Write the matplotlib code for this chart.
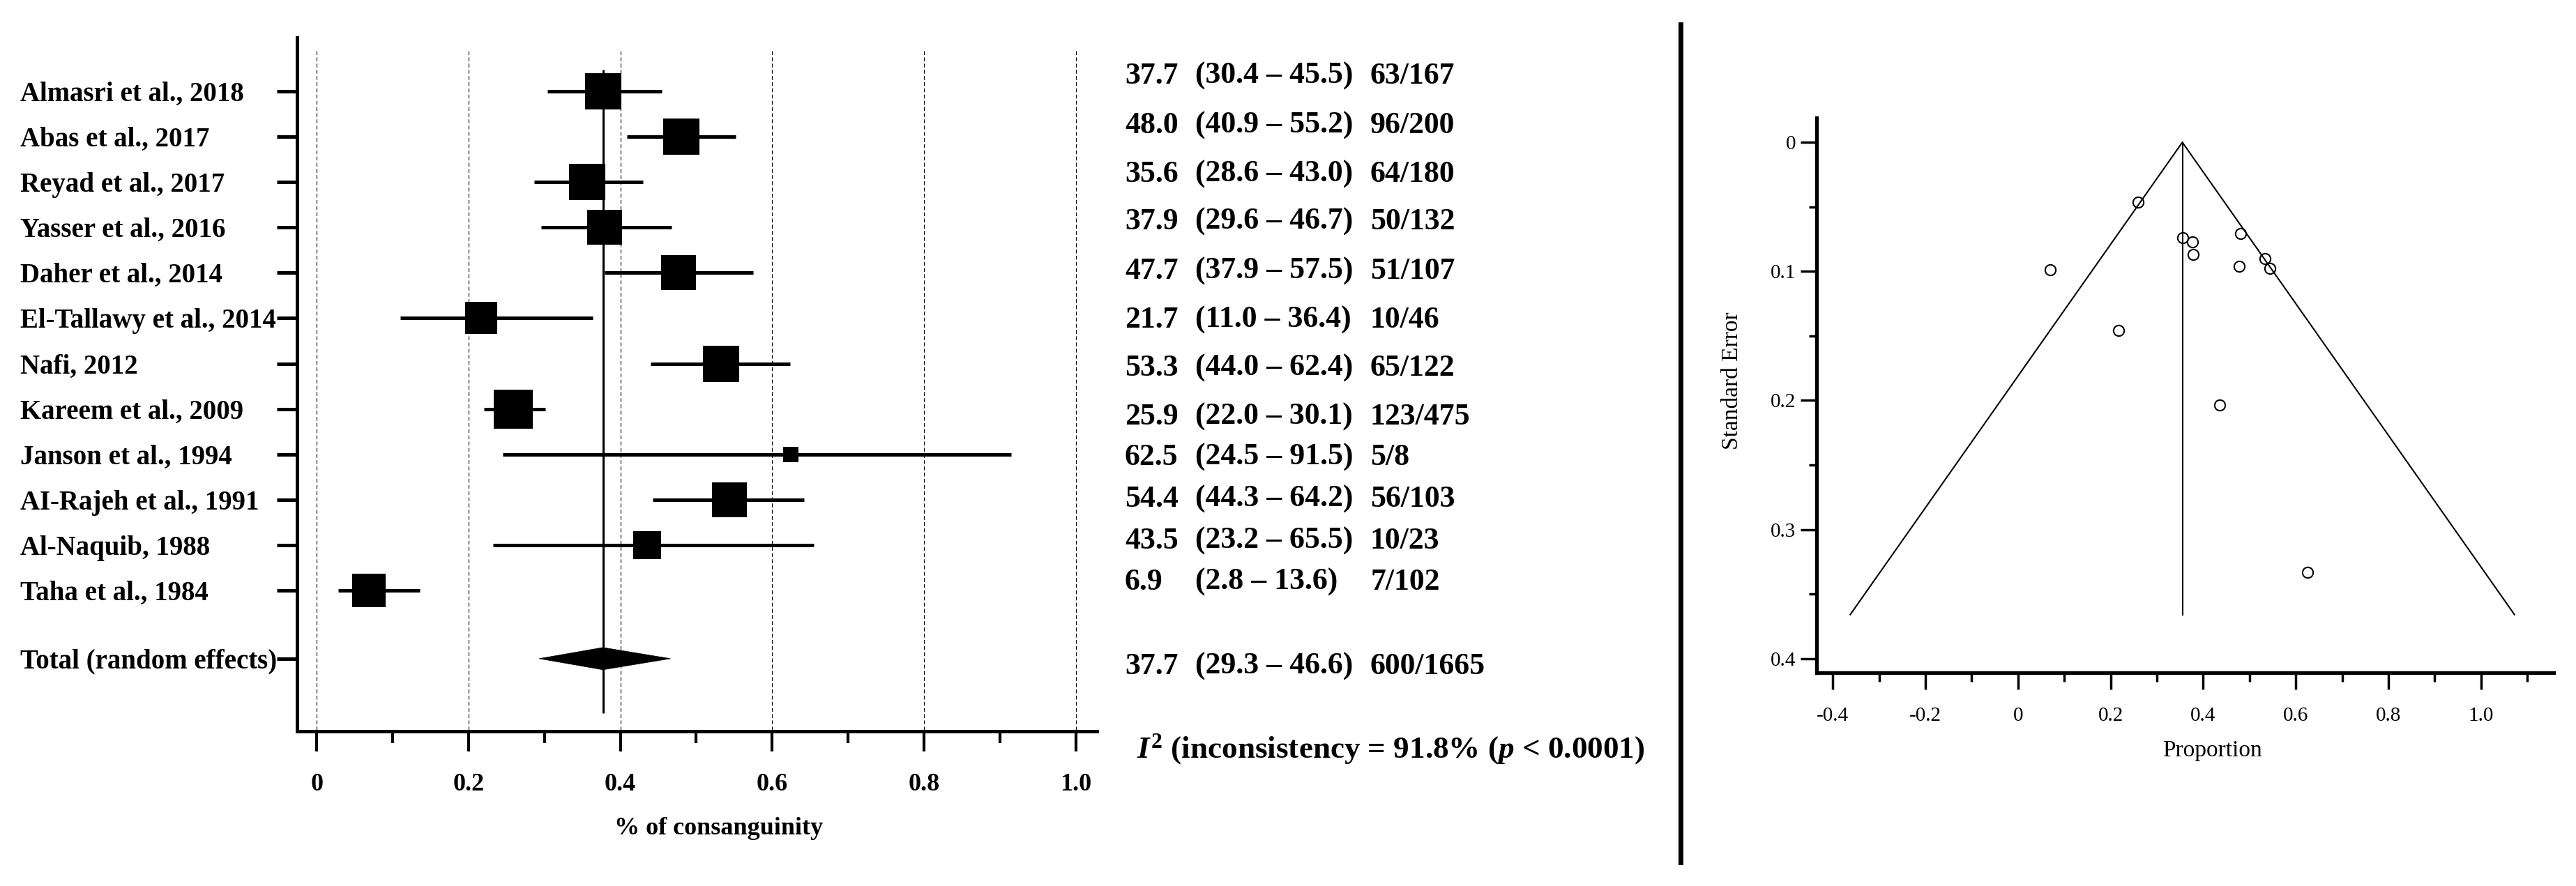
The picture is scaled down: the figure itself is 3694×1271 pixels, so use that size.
import numpy as np
import matplotlib
matplotlib.use("Agg")
import matplotlib.pyplot as plt
from matplotlib.patches import Polygon
from matplotlib.lines import Line2D

plt.rcParams['font.family'] = ['Liberation Serif', 'DejaVu Serif']
plt.rcParams['mathtext.fontset'] = 'custom'
plt.rcParams['mathtext.rm'] = 'Liberation Serif:bold'
plt.rcParams['mathtext.it'] = 'Liberation Serif:italic:bold'
plt.rcParams['mathtext.bf'] = 'Liberation Serif:bold'

# ---- data ----
studies = ["Almasri et al., 2018", "Abas et al., 2017", "Reyad et al., 2017",
           "Yasser et al., 2016", "Daher et al., 2014", "El-Tallawy et al., 2014",
           "Nafi, 2012", "Kareem et al., 2009", "Janson et al., 1994",
           "AI-Rajeh et al., 1991", "Al-Naquib, 1988", "Taha et al., 1984"]
prop = [37.7, 48.0, 35.6, 37.9, 47.7, 21.7, 53.3, 25.9, 62.5, 54.4, 43.5, 6.9]
ci_lo = [30.4, 40.9, 28.6, 29.6, 37.9, 11.0, 44.0, 22.0, 24.5, 44.3, 23.2, 2.8]
ci_hi = [45.5, 55.2, 43.0, 46.7, 57.5, 36.4, 62.4, 30.1, 91.5, 64.2, 65.5, 13.6]
events = [63, 96, 64, 50, 51, 10, 65, 123, 5, 56, 10, 7]
totals = [167, 200, 180, 132, 107, 46, 122, 475, 8, 103, 23, 102]
weight = [9.8, 9.8, 9.4, 9.2, 9.1, 7.7, 9.8, 11.0, 1.8, 8.7, 5.5, 8.3]  # % (random)

pooled = 37.7
pooled_lo, pooled_hi = 29.3, 46.6
pooled_events, pooled_total = 600, 1665
i2_text = r"$I^{2}$ (inconsistency = 91.8% ($p$ < 0.0001)"

# funnel plot
funnel_se = [0.077, 0.0705, 0.0741, 0.0871, 0.096, 0.1459, 0.090, 0.0461,
             0.3334, 0.0979, 0.2037, 0.0988]
funnel_center = 0.355
funnel_se_max = 0.366

# ---- figure ----
W, H = 3694, 1271
fig = plt.figure(figsize=(W / 100, H / 100), dpi=100)


def box(x0, y0, x1, y1):
    return [x0 / W, 1 - y1 / H, (x1 - x0) / W, (y1 - y0) / H]


# forest plot
ax = fig.add_axes(box(426, 54, 1573, 1049))
rows = list(range(len(studies)))
total_row = len(studies) + 0.5

xt = [0, 0.2, 0.4, 0.6, 0.8, 1.0]
ax.vlines(xt, -0.89, 14.1, colors='k', lw=0.8, linestyles=(0, (5, 3)), zorder=1)
ax.vlines(pooled / 100, -0.48, 13.7, colors='k', lw=2.2, zorder=2)

for i in rows:
    ax.plot([ci_lo[i] / 100, ci_hi[i] / 100], [i, i], color='k', lw=3.6,
            solid_capstyle='butt', zorder=3)
    ax.plot(prop[i] / 100, i, marker='s', ms=12.0 * np.sqrt(weight[i]),
            color='k', mew=0, zorder=4)

dia = Polygon([(pooled_lo / 100, total_row), (pooled / 100, total_row - 0.245),
               (pooled_hi / 100, total_row), (pooled / 100, total_row + 0.245)],
              closed=True, fc='k', ec='k', lw=0.5, zorder=4)
ax.add_patch(dia)

ax.set_xlim(-0.026, 1.028)
ax.set_ylim(14.1, -1.18)
for s in ['top', 'right']:
    ax.spines[s].set_visible(False)
for s in ['left', 'bottom']:
    ax.spines[s].set_linewidth(3.6)

ax.set_yticks(rows + [total_row], studies + ["Total (random effects)"])
ax.tick_params(axis='y', length=21, width=3.6, pad=265, labelsize=28)
for lbl in ax.get_yticklabels():
    lbl.set_horizontalalignment('left')
    lbl.set_fontweight('bold')

ax.set_xticks(xt, ["0", "0.2", "0.4", "0.6", "0.8", "1.0"])
ax.set_xticks([0.1, 0.3, 0.5, 0.7, 0.9], minor=True)
ax.tick_params(axis='x', which='major', length=21, width=3, pad=22, labelsize=26)
ax.tick_params(axis='x', which='minor', length=12, width=3)
for lbl in ax.get_xticklabels():
    lbl.set_fontweight('bold')
ax.set_xlabel("% of consanguinity", fontsize=26, fontweight='bold')
ax.xaxis.set_label_coords(0.527, -0.124)

# result columns
txt_y = [109, 180, 250, 318, 389, 459, 528, 598, 656, 716, 776, 835]
col_x = [1613, 1714, 1965]


def row_text(y, a, b, c):
    for x, s in zip(col_x, [a, b, c]):
        fig.text(x / W, 1 - y / H, s, ha='left', va='center', fontsize=31.5,
                 fontweight='bold')


for i in rows:
    row_text(txt_y[i], f"{prop[i]:.1f}", f"({ci_lo[i]:.1f} \u2013 {ci_hi[i]:.1f})",
             f"{events[i]}/{totals[i]}")
row_text(956, f"{pooled:.1f}", f"({pooled_lo:.1f} \u2013 {pooled_hi:.1f})",
         f"{pooled_events}/{pooled_total}")
fig.text(1630 / W, 1 - 1075 / H, i2_text, ha='left', va='center', fontsize=32.5,
         fontweight='bold')

# separator
fig.add_artist(Line2D([2410 / W, 2410 / W], [1 - 35 / H, 1 - 1237 / H],
                      color='k', lw=5))

# funnel plot
ax2 = fig.add_axes(box(2605, 169, 3662, 965))
half = 1.96 * funnel_se_max
ax2.plot([funnel_center - half, funnel_center, funnel_center + half],
         [funnel_se_max, 0, funnel_se_max], color='k', lw=1.5)
ax2.plot([funnel_center, funnel_center], [0, funnel_se_max], color='k', lw=1.5)
ax2.plot([p / 100 for p in prop], funnel_se, 'o', mfc='none', mec='k',
         ms=11, mew=1.5, zorder=3)

ax2.set_xlim(-0.435, 1.157)
ax2.set_ylim(0.411, -0.019)
for s in ['top', 'right']:
    ax2.spines[s].set_visible(False)
for s in ['left', 'bottom']:
    ax2.spines[s].set_linewidth(3.8)

fx = [-0.4, -0.2, 0, 0.2, 0.4, 0.6, 0.8, 1.0]
ax2.set_xticks(fx, ["-0.4", "-0.2", "0", "0.2", "0.4", "0.6", "0.8", "1.0"])
ax2.set_xticks([-0.3, -0.1, 0.1, 0.3, 0.5, 0.7, 0.9, 1.1], minor=True)
fy = [0, 0.1, 0.2, 0.3, 0.4]
ax2.set_yticks(fy, ["0", "0.1", "0.2", "0.3", "0.4"])
ax2.set_yticks([0.05, 0.15, 0.25, 0.35], minor=True)
ax2.tick_params(axis='x', which='major', length=17, width=2.5, pad=18, labelsize=21)
ax2.tick_params(axis='x', which='minor', length=9, width=2.5)
ax2.tick_params(axis='y', which='major', length=16.5, width=2.5, pad=5, labelsize=21)
ax2.tick_params(axis='y', which='minor', length=8, width=2.5)
ax2.set_xlabel("Proportion", fontsize=24)
ax2.xaxis.set_label_coords(0.537, -0.121)
ax2.set_ylabel("Standard Error", fontsize=24)
ax2.yaxis.set_label_coords(-0.100, 0.526)

fig.savefig("out.png", dpi=100)
